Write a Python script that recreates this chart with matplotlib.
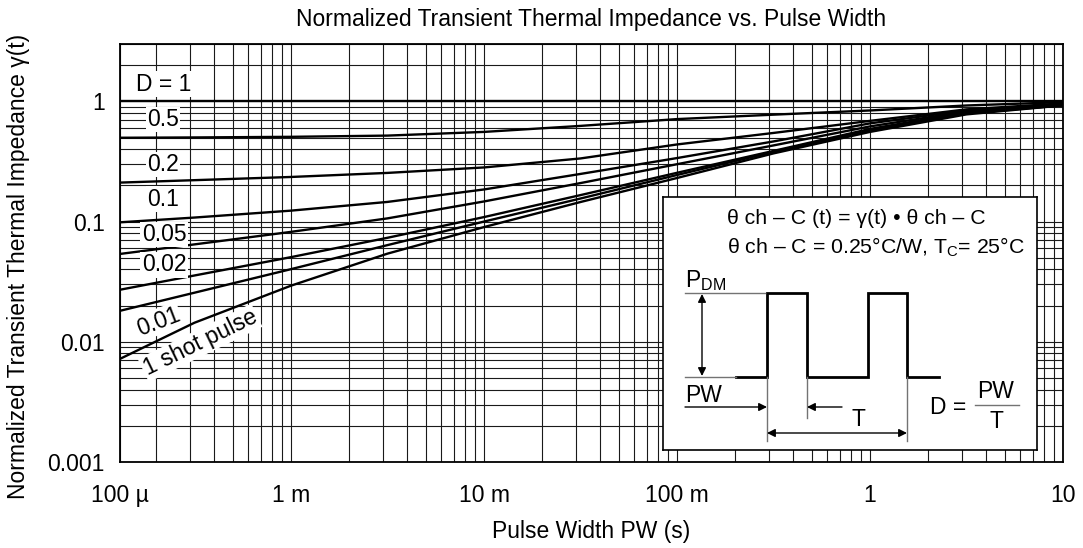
import numpy as np
import matplotlib
matplotlib.use("Agg")
import matplotlib.pyplot as plt
from matplotlib import ticker

plt.rcParams['font.family'] = ['Liberation Sans', 'DejaVu Sans']
plt.rcParams['mathtext.fontset'] = 'custom'
plt.rcParams['mathtext.rm'] = 'Liberation Sans'
plt.rcParams['mathtext.it'] = 'Liberation Sans:italic'

pw = [1.3e-4, 3.16e-4, 1e-3, 3.16e-3, 1e-2, 3.16e-2, 0.1, 0.316, 1, 3.16, 10]

# normalized transient thermal impedance per duty cycle
r_d1 = [1.0, 1.0, 1.0, 1.0, 1.0, 1.0, 1.0, 1.0, 1.0, 1.0, 1.0]
r_d05 = [0.498, 0.501, 0.507, 0.519, 0.557, 0.625, 0.712, 0.775, 0.840, 0.924, 0.985]
r_d02 = [0.211, 0.221, 0.235, 0.254, 0.282, 0.335, 0.438, 0.546, 0.688, 0.858, 0.962]
r_d01 = [0.0986, 0.108, 0.1233, 0.1457, 0.185, 0.249, 0.3375, 0.464, 0.656, 0.841, 0.944]
r_d005 = [0.0538, 0.0646, 0.0821, 0.1063, 0.147, 0.209, 0.300, 0.430, 0.619, 0.825, 0.935]
r_d002 = [0.0271, 0.0356, 0.0506, 0.0733, 0.109, 0.166, 0.2545, 0.387, 0.590, 0.810, 0.926]
r_d001 = [0.0181, 0.0256, 0.0402, 0.0637, 0.100, 0.1555, 0.244, 0.380, 0.573, 0.794, 0.926]
r_single = [0.00721, 0.0144, 0.0293, 0.0541, 0.090, 0.1454, 0.2304, 0.369, 0.557, 0.779, 0.926]

curves = [r_d1, r_d05, r_d02, r_d01, r_d005, r_d002, r_d001, r_single]

# curve labels: text, x, y, rotation
labels = ["D = 1", "0.5", "0.2", "0.1", "0.05", "0.02", "0.01", "1 shot pulse"]
label_x = [2.2e-4, 2.17e-4, 2.17e-4, 2.17e-4, 2.2e-4, 2.2e-4, 2.05e-4, 3.38e-4]
label_y = [1.39, 0.708, 0.2985, 0.153, 0.078, 0.0438, 0.0147, 0.0098]
label_rot = [0, 0, 0, 0, 0, 0, 21, 26]

xtick_vals = [1.3e-4, 1e-3, 1e-2, 1e-1, 1, 10]
xtick_labels = ["100 µ", "1 m", "10 m", "100 m", "1", "10"]
ytick_vals = [0.001, 0.01, 0.1, 1]
ytick_labels = ["0.001", "0.01", "0.1", "1"]

W, H = 1083, 548
fig = plt.figure(figsize=(W / 100, H / 100), dpi=100)
ax = fig.add_axes([120 / W, 1 - 462 / H, (1063 - 120) / W, (462 - 44) / H])

for r in curves:
    ax.plot(pw, r, color='black', lw=1.7, zorder=3, solid_joinstyle='round')

ax.set_xscale('log')
ax.set_yscale('log')
ax.set_xlim(1.3e-4, 10)
ax.set_ylim(0.001, 3.0)

ax.xaxis.set_major_locator(ticker.FixedLocator(xtick_vals))
ax.xaxis.set_major_formatter(ticker.FixedFormatter(xtick_labels))
ax.xaxis.set_minor_locator(ticker.LogLocator(base=10, subs=np.arange(2, 10), numticks=100))
ax.xaxis.set_minor_formatter(ticker.NullFormatter())
ax.yaxis.set_major_locator(ticker.FixedLocator(ytick_vals))
ax.yaxis.set_major_formatter(ticker.FixedFormatter(ytick_labels))
ax.yaxis.set_minor_locator(ticker.LogLocator(base=10, subs=np.arange(2, 10), numticks=100))
ax.yaxis.set_minor_formatter(ticker.NullFormatter())

ax.grid(True, which='both', color='#1a1a1a', lw=0.8, zorder=1)
ax.set_axisbelow(True)
ax.tick_params(which='both', length=0, labelsize=16.5)
ax.tick_params(axis='x', pad=16)
ax.tick_params(axis='y', pad=11)
for s in ax.spines.values():
    s.set_linewidth(1.3)

ax.set_title("Normalized Transient Thermal Impedance vs. Pulse Width", fontsize=16.5, pad=13)
ax.set_xlabel("Pulse Width PW (s)", fontsize=16.5, labelpad=9)
ax.set_ylabel("Normalized Transient Thermal Impedance γ(t)", fontsize=16.5)
ax.yaxis.set_label_coords(-0.095, 0.467)

for t, x, y, rot in zip(labels, label_x, label_y, label_rot):
    ax.text(x, y, t, fontsize=16.5, ha='center', va='center', rotation=rot,
            rotation_mode='anchor', zorder=4,
            bbox=dict(facecolor='white', edgecolor='none', pad=1.0))

# inset with the pulse definition (drawn in pixel units of the figure)
x0, x1, y0, y1 = 663, 1037, 197, 450
ins = fig.add_axes([x0 / W, 1 - y1 / H, (x1 - x0) / W, (y1 - y0) / H], zorder=5)
ins.set_xlim(x0, x1)
ins.set_ylim(y1, y0)
ins.set_xticks([])
ins.set_yticks([])
ins.set_facecolor('white')
for s in ins.spines.values():
    s.set_linewidth(1.2)

ins.text(856, 219, "θ ch – C (t) = γ(t) • θ ch – C", fontsize=15.3, ha='center', va='center')
ins.text(727, 247, r"θ ch – C = 0.25°C/W, T$_{\mathrm{C}}$= 25°C", fontsize=15.3, ha='left', va='center')
ins.text(685, 281, r"P$_{\mathrm{DM}}$", fontsize=16.5, ha='left', va='center')

wave_x = [736, 767, 767, 807, 807, 868, 868, 907, 907, 939]
wave_y = [377, 377, 293, 293, 377, 377, 293, 293, 377, 377]
ins.plot(wave_x, wave_y, color='black', lw=2.0, solid_joinstyle='miter')
ins.plot([685, 765], [293, 293], color='0.45', lw=1)
ins.plot([685, 736], [377, 377], color='0.45', lw=1)
ins.annotate("", xy=(702, 294), xytext=(702, 376),
             arrowprops=dict(arrowstyle='<|-|>', color='black', lw=1, mutation_scale=12, shrinkA=0, shrinkB=0))

ins.text(685, 395, "PW", fontsize=16.5, ha='left', va='center')
ins.annotate("", xy=(767, 407), xytext=(685, 407),
             arrowprops=dict(arrowstyle='-|>', color='black', lw=1, mutation_scale=12, shrinkA=0, shrinkB=0))
ins.annotate("", xy=(807, 407), xytext=(842, 407),
             arrowprops=dict(arrowstyle='-|>', color='black', lw=1, mutation_scale=12, shrinkA=0, shrinkB=0))
ins.plot([767, 767], [377, 441], color='0.45', lw=1)
ins.plot([807, 807], [377, 418], color='0.45', lw=1)
ins.plot([907, 907], [377, 441], color='0.45', lw=1)
ins.annotate("", xy=(767, 433), xytext=(907, 433),
             arrowprops=dict(arrowstyle='<|-|>', color='black', lw=1, mutation_scale=12, shrinkA=0, shrinkB=0))
ins.text(858, 420, "T", fontsize=16.5, ha='center', va='center')

ins.text(948, 407, "D =", fontsize=16.5, ha='center', va='center')
ins.text(996, 392, "PW", fontsize=16.5, ha='center', va='center')
ins.plot([975, 1019], [405, 405], color='0.45', lw=1)
ins.text(996, 422, "T", fontsize=16.5, ha='center', va='center')

fig.savefig("out.png", dpi=100)
